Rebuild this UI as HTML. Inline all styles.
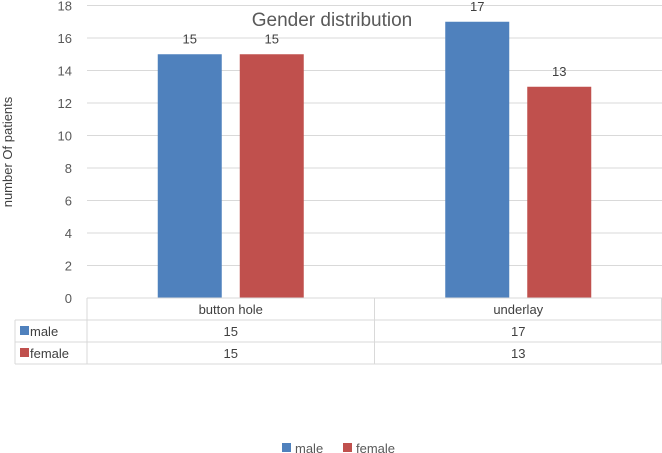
<!DOCTYPE html>
<html><head><meta charset="utf-8"><style>
body{margin:0;background:#fff}
svg{display:block;font-family:"Liberation Sans",sans-serif}
</style></head><body>
<svg id="c" width="662" height="453"></svg>
<script>
const categories=["button hole","underlay"];
const seriesNames=["male","female"];
const maleValues=[15,17];
const femaleValues=[15,13];
const yTicks=[0,2,4,6,8,10,12,14,16,18];
const colors=["#4f81bd","#c0504d"];
const NS="http://www.w3.org/2000/svg";
const svg=document.getElementById('c');
function el(t,a,txt){const e=document.createElementNS(NS,t);for(const k in a)e.setAttribute(k,a[k]);if(txt!==undefined)e.textContent=txt;svg.appendChild(e);return e;}
const x0=87,x1=662,yTop=5.5,yBot=298;
const y=v=>yBot-(v/18)*(yBot-yTop);
const catW=(x1-x0)/categories.length;
const bw=64,gap=18;
yTicks.forEach(t=>{
  if(t>0){const g=el('line',{x1:x0,x2:x1,y1:y(t),y2:y(t),stroke:'#d9d9d9','stroke-width':1});
  
  }
  const l=el('text',{x:72,y:y(t)+5,'text-anchor':'end','font-size':13,fill:'#595959'},t);
  
  
});
const all=[maleValues,femaleValues];
categories.forEach((c,i)=>{
  const cx=x0+catW*(i+0.5);
  all.forEach((vals,s)=>{
    const bx=s===0?cx-gap/2-bw:cx+gap/2;
    const r=el('rect',{x:bx,y:y(vals[i]),width:bw,height:yBot-y(vals[i]),fill:colors[s]});
    
    
    const t=el('text',{x:bx+bw/2,y:y(vals[i])-11,'text-anchor':'middle','font-size':13,fill:'#404040'},vals[i]);
    
    
  });
});
// data table
const rows=[298,320,342,364];
[[x0,x1,298],[15,x1,320],[15,x1,342],[15,x1,364]].forEach(a=>{const l=el('line',{x1:a[0],x2:a[1],y1:a[2],y2:a[2],stroke:'#d9d9d9'});});
[[15,320,364],[x0,298,364],[x0+catW,298,364],[661.5,298,364]].forEach(a=>{const l=el('line',{x1:a[0],x2:a[0],y1:a[1],y2:a[2],stroke:'#d9d9d9'});});
categories.forEach((c,i)=>{
  const cx=x0+catW*(i+0.5);
  const h=el('text',{x:cx,y:314,'text-anchor':'middle','font-size':13,fill:'#404040'},c);
  
  
  all.forEach((vals,s)=>{
    const t=el('text',{x:cx,y:336+s*22,'text-anchor':'middle','font-size':13,fill:'#404040'},vals[i]);
    
    
  });
});
seriesNames.forEach((n,s)=>{
  const r=el('rect',{x:20,y:326+s*22,width:9,height:9,fill:colors[s]});
  
  
  const t=el('text',{x:30,y:336+s*22,'font-size':13,fill:'#404040'},n);
  
  
});
// title
const ti=el('text',{x:332,y:26,'text-anchor':'middle','font-size':19,fill:'#595959'},'Gender distribution');


const yt=el('text',{x:0,y:0,'text-anchor':'middle','font-size':13,fill:'#404040',transform:'translate(12,152) rotate(-90)'},'number Of patients');


// legend
const lx=[282,343];
seriesNames.forEach((n,s)=>{
  const r=el('rect',{x:lx[s],y:443,width:9,height:9,fill:colors[s]});
  
  
  const t=el('text',{x:lx[s]+13,y:453,'font-size':13,fill:'#595959'},n);
  
  
});
</script>
</body></html>
